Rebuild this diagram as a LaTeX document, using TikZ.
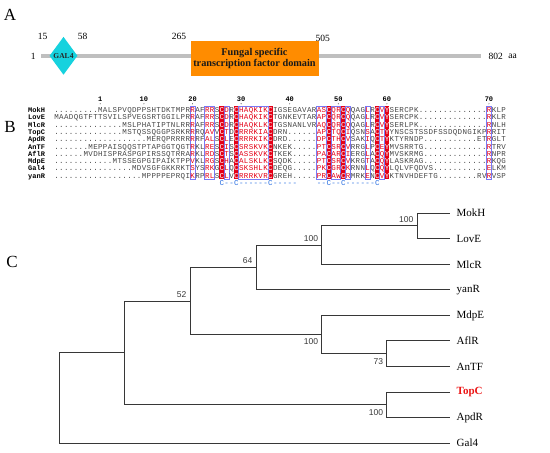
\documentclass[tikz,border=0pt]{standalone}
\usepackage{fontspec}
\setmainfont{Liberation Serif}
\newfontfamily\monof{Liberation Mono}
\newfontfamily\sansf{Liberation Sans}
\usetikzlibrary{shapes.geometric}
\definecolor{espred}{RGB}{228,0,22}
\definecolor{espblue}{RGB}{120,120,245}
\definecolor{consblue}{RGB}{40,110,225}
\definecolor{seqgray}{RGB}{70,70,70}
\definecolor{galcyan}{RGB}{22,210,222}
\definecolor{domorange}{RGB}{255,140,0}
\definecolor{treegray}{RGB}{55,55,55}
\definecolor{topred}{RGB}{235,20,20}
\newcount\colno
\newdimen\cw \cw=4.86pt
\def\dd#1{\ifnum#1>0 .\expandafter\dd\expandafter{\the\numexpr#1-1\relax}\fi}
\def\seqrow#1{\edef\tmpseq{#1}\colno=0\relax\expandafter\seqloop\tmpseq\relax}
\def\seqloop#1{\ifx\relax#1\else\advance\colno by 1\relax\seqchar{#1}\expandafter\seqloop\fi}
\def\seqchar#1{\makebox[\cw][c]{\ifcsname rc\the\colno\endcsname\color{white}\else\ifcsname bc\the\colno\endcsname\ifx.#1\else\color{espred}\fi\fi\fi#1}}
\def\conrow#1{\conloop#1\relax}
\def\conloop#1{\ifx\relax#1\else\makebox[\cw][c]{\ifx x#1\else#1\fi}\expandafter\conloop\fi}
\foreach \c in {35,38,45,57,60,67,69}{\expandafter\gdef\csname rc\c\endcsname{}}
\foreach \c in {29,32,33,36,39,40,41,42,43,44,55,56,58,59,61,65,68,90}{\expandafter\gdef\csname bc\c\endcsname{}}
\begin{document}
\begin{tikzpicture}[x=1pt,y=-1pt,
  tree/.style={draw=treegray, line width=1pt},
  tiplab/.style={anchor=west, inner sep=0pt, font=\fontsize{11}{11}\selectfont},
  bs/.style={anchor=east, inner sep=0pt, font=\sansf\fontsize{8.5}{8.5}\selectfont, text=treegray},
  seqtxt/.style={anchor=base west, inner sep=0pt, font=\monof\fontsize{7.5}{7.5}\selectfont, text=seqgray},
  seqname/.style={anchor=base west, inner sep=0pt, font=\monof\bfseries\fontsize{7}{7}\selectfont},
  rul/.style={inner sep=0pt, font=\monof\bfseries\fontsize{7}{7}\selectfont},
  panel/.style={font=\fontsize{17}{17}\selectfont, inner sep=0pt},
  numlab/.style={font=\fontsize{9.5}{9.5}\selectfont, inner sep=0pt},
]
\useasboundingbox (0,0) rectangle (550,453);
% ---------------- Panel A
\node[panel] (labA) at (10,15) {A};
\coordinate (lineL) at (41,56);
\coordinate (lineR) at (481,56);
\draw[line width=3.2pt, draw=black!25] (lineL) -- (lineR);
\node[diamond, fill=galcyan, minimum width=28pt, minimum height=38pt, inner sep=0pt] (gal) at (63.5,55.8) {};
\node[font=\bfseries\fontsize{7.5}{7.5}\selectfont, inner sep=0pt, text=black!85] (galtxt) at (gal) {GAL4};
\node[fill=domorange, minimum width=128pt, minimum height=35pt, inner sep=0pt, align=center,
      font=\bfseries\fontsize{10.3}{10.7}\selectfont, text=black!90] (dom) at (254.5,58.5)
      {Fungal specific\\transcription factor domain};
\node[numlab] (p1) at (33.3,56) {1};
\node[numlab] (p15) at (42.7,36) {15};
\node[numlab] (p58) at (82.7,36) {58};
\node[numlab] (p265) at (179,36) {265};
\node[numlab] (p505) at (322.7,38.3) {505};
\node[numlab] (p802) at (495.7,56) {802};
\node[numlab] (paa) at (512.7,56) {aa};
% ---------------- Panel B
\node[panel] (labB) at (10,127) {B};
\foreach \c in {35,38,45,57,60,67,69}
  \fill[espred] ({54+(\c-1)*4.86},106.35) rectangle ({54+\c*4.86},179.35);
\foreach \a/\b in {29/29,32/33,36/36,39/44,55/56,58/59,61/61,65/65,68/68,90/90}
  \draw[espblue, line width=0.5pt] ({54+(\a-1)*4.86},106.35) rectangle ({54+\b*4.86},179.35);
\foreach \n/\c in {1/10,10/19,20/29,30/39,40/49,50/59,60/69,70/90}{
  \node[rul] (r\n) at ({54+(\c-0.5)*4.86},99) {\n};
  \fill ({54+(\c-0.5)*4.86},103.8) circle (0.45);
}
\foreach \k/\nm in {0/MokH,1/LovE,2/MlcR,3/TopC,4/ApdR,5/AnTF,6/AflR,7/MdpE,8/Gal4,9/yanR}
  \node[seqname] (nm\nm) at (28,{112.5+\k*7.3}) {\nm};
\node[seqtxt] (sMokH) at (54,112.5) {\seqrow{\dd{9}MALSPVQDPPSHTDKTMPRRAFRRSCDRCHAQKIKCIGSEGAVARASCQRCQQAGLRCVYSERCPK\dd{14}RKLP}};
\node[seqtxt] (sLovE) at (54,119.8) {\seqrow{MAADQGTFTTSVILSPVEGSRTGGILPRRAFRRSCDRCHAQKIKCTGNKEVTARAPCQRCQQAGLRCVYSERCPK\dd{14}RKLR}};
\node[seqtxt] (sMlcR) at (54,127.1) {\seqrow{\dd{14}MSLPHATIPTNLRRRAFRRSCDRCHAQKLKCTGSNANLVRAQCQRCQQAGLRCVYSERLPK\dd{14}RNLH}};
\node[seqtxt] (sTopC) at (54,134.4) {\seqrow{\dd{14}MSTQSSQGGPSRKRRRQAVVCTDCRRRKIACDRN\dd{6}APCTQCIQSNSACTYYNSCSTSSDFSSDQDNGIKPRRIT}};
\node[seqtxt] (sApdR) at (54,141.7) {\seqrow{\dd{19}MERQPRRRRRRFALSCLECRRRKIKCDRD\dd{6}DPCTHCVSAKIQCTYKTYRNDP\dd{11}ETRGLT}};
\node[seqtxt] (sAnTF) at (54,149.0) {\seqrow{\dd{7}MEPPAISQQSTPTAPGGTQGTRKLRESCISCSRSKVKCNKEK\dd{5}PTCSRCVRRGLPCEYMVSRRTG\dd{13}RTRV}};
\node[seqtxt] (sAflR) at (54,156.3) {\seqrow{\dd{6}MVDHISPRASPGPIRSSQTRRARKLRDSCTSCASSKVKCTKEK\dd{5}PACARCIERGLACQYMVSKRMG\dd{13}RNPR}};
\node[seqtxt] (sMdpE) at (54,163.6) {\seqrow{\dd{12}MTSSEGPGIPAIKTPPVKLRGSCHACALSKLKCSQDK\dd{5}PTCSRCVKRGTACQYLASKRAG\dd{13}RKQG}};
\node[seqtxt] (sGal4) at (54,170.9) {\seqrow{\dd{16}MDVSGFGKKRKTSYSRKGCLQCSKSHLKCDEQG\dd{5}PKCGRCKRNNLQCQYLQLVFQDVS\dd{11}ELKM}};
\node[seqtxt] (syanR) at (54,178.2) {\seqrow{\dd{18}MPPPPEPRQIKRPRLSCLVCRRRKVRCGREH\dd{5}PRCAWCRMRKENCVYKTNVHDEFTG\dd{8}RVRVSP}};
\node[seqtxt, text=consblue] (cons) at ({54+34*4.86},185.8) {\conrow{C--C------C-----xxxx--C--C------C}};
% ---------------- Panel C
\node[panel] (labC) at (12,262) {C};
\coordinate (tMokH) at (450,213.2);
\coordinate (tLovE) at (450,238.75);
\coordinate (tMlcR) at (450,264.3);
\coordinate (tyanR) at (450,289.85);
\coordinate (tMdpE) at (450,315.4);
\coordinate (tAflR) at (450,340.95);
\coordinate (tAnTF) at (450,366.5);
\coordinate (tTopC) at (450,392.05);
\coordinate (tApdR) at (450,417.6);
\coordinate (tGal4) at (450,443.15);
\coordinate (nML) at (417,225.98);
\coordinate (nM) at (321.7,245.14);
\coordinate (n64) at (256,267.5);
\coordinate (nAA) at (386.7,353.73);
\coordinate (nMd) at (321.7,334.56);
\coordinate (n52) at (190,301.03);
\coordinate (nTA) at (386.7,404.83);
\coordinate (n1) at (124.7,352.93);
\coordinate (root) at (59.3,398.04);
\draw[tree] (root) |- (n1);
\draw[tree] (root) |- (tGal4);
\draw[tree] (n1) |- (n52);
\draw[tree] (n1) |- (nTA);
\draw[tree] (n52) |- (n64);
\draw[tree] (n52) |- (nMd);
\draw[tree] (n64) |- (nM);
\draw[tree] (n64) |- (tyanR);
\draw[tree] (nM) |- (nML);
\draw[tree] (nM) |- (tMlcR);
\draw[tree] (nML) |- (tMokH);
\draw[tree] (nML) |- (tLovE);
\draw[tree] (nMd) |- (tMdpE);
\draw[tree] (nMd) |- (nAA);
\draw[tree] (nAA) |- (tAflR);
\draw[tree] (nAA) |- (tAnTF);
\draw[tree] (nTA) |- (tTopC);
\draw[tree] (nTA) |- (tApdR);
\foreach \t in {MokH,LovE,MlcR,yanR,MdpE,AflR,AnTF,ApdR,Gal4}
  \node[tiplab] (l\t) at ([xshift=6.5pt]t\t) {\t};
\node[tiplab, text=topred, font=\bfseries\fontsize{11}{11}\selectfont] (lTopC) at ([xshift=6.5pt]tTopC) {TopC};
\node[bs] (bML) at ([xshift=-3.5pt,yshift=6.8pt]nML) {100};
\node[bs] (bM) at ([xshift=-3.5pt,yshift=6.8pt]nM) {100};
\node[bs] (b64) at ([xshift=-3.5pt,yshift=6.5pt]n64) {64};
\node[bs] (b52) at ([xshift=-3.5pt,yshift=6.5pt]n52) {52};
\node[bs] (bMd) at ([xshift=-3.5pt,yshift=-7pt]nMd) {100};
\node[bs] (bAA) at ([xshift=-3.5pt,yshift=-7.5pt]nAA) {73};
\node[bs] (bTA) at ([xshift=-3.5pt,yshift=-7.5pt]nTA) {100};
\end{tikzpicture}
\end{document}
